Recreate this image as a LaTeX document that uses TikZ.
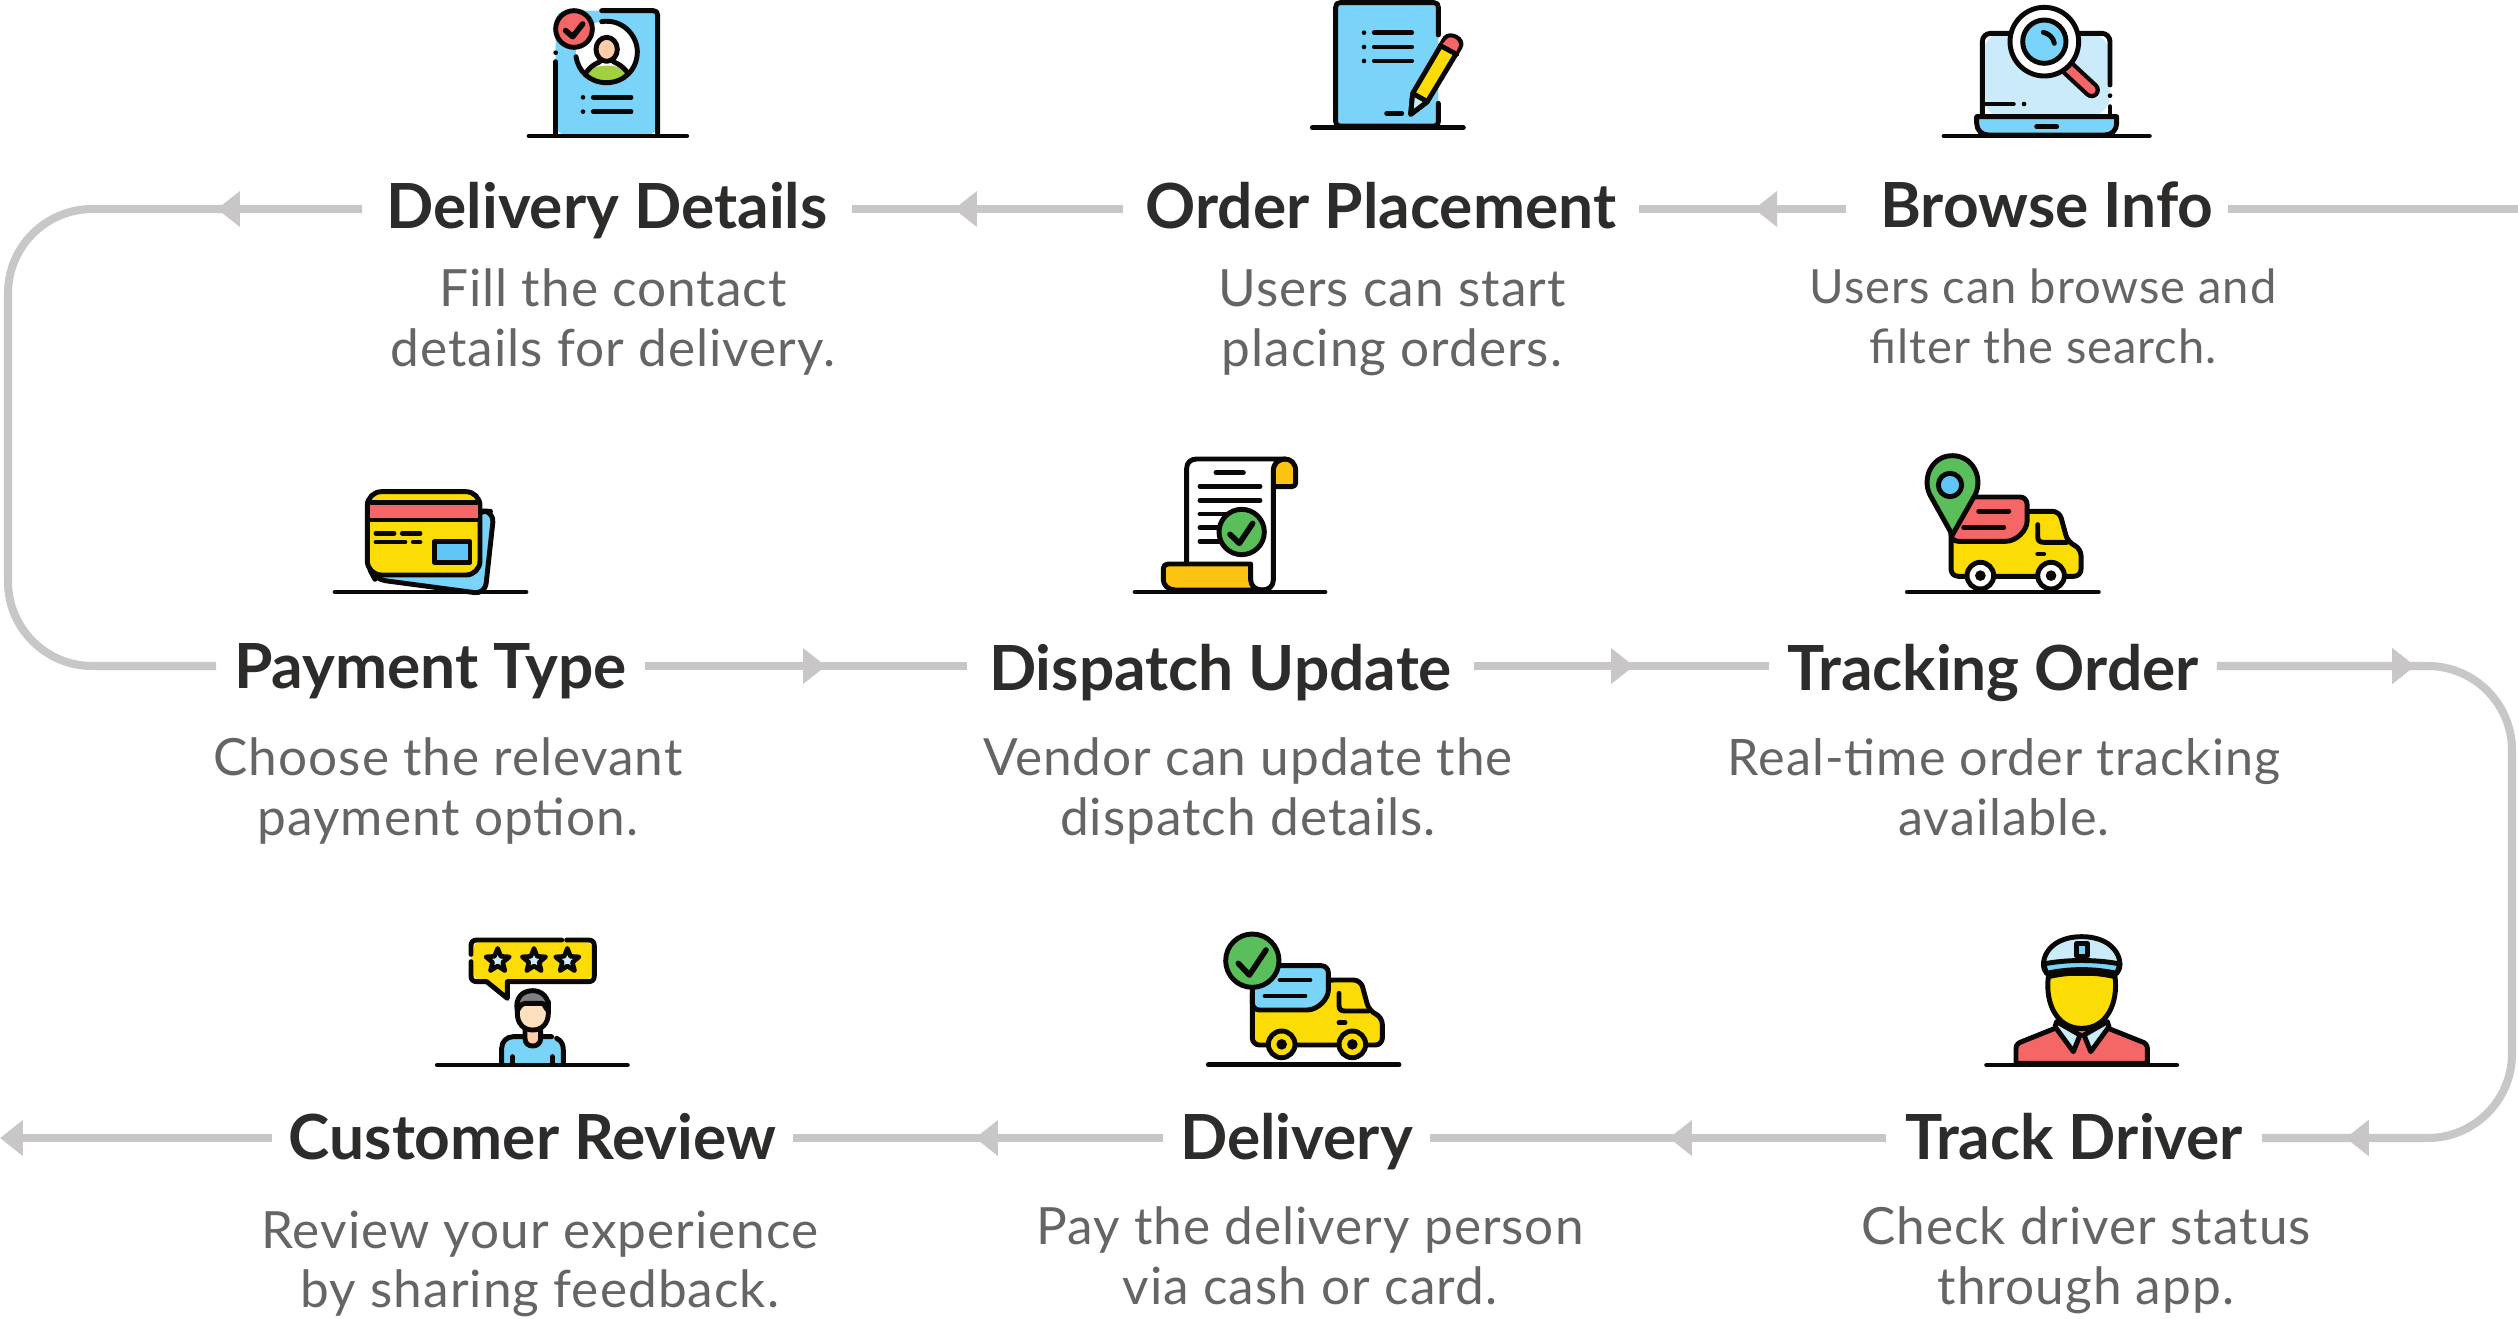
\documentclass[tikz,border=0pt]{standalone}
\usepackage{fontspec}
\setmainfont{Lato}
\newfontfamily\bodyfont[LetterSpace=2]{Lato}
\usetikzlibrary{arrows.meta,decorations.markings,shapes.geometric}
\definecolor{inkc}{HTML}{0A0807}
\definecolor{flowc}{HTML}{C8C6C6}
\definecolor{headc}{HTML}{2E2C2B}
\definecolor{bodyc}{HTML}{666565}
\definecolor{skyc}{HTML}{7AD3F9}
\definecolor{paleskyc}{HTML}{CBEAFA}
\definecolor{deepskyc}{HTML}{5FC6F5}
\definecolor{redc}{HTML}{F56666}
\definecolor{yellowc}{HTML}{FCDC05}
\definecolor{amberc}{HTML}{FCC312}
\definecolor{greenc}{HTML}{5ABE5A}
\definecolor{limec}{HTML}{A0CF40}
\definecolor{skinc}{HTML}{FFCDAA}
\definecolor{faceC}{HTML}{FFE0BD}
\definecolor{hairc}{HTML}{808080}
\tikzset{
	headline/.style = {
		font=\fontsize{17.7}{20}\selectfont\bfseries,
		text=headc,
		inner xsep=0pt,
		inner ysep=0pt,
		text depth=2pt,
		minimum width=#1
	},
	descr/.style = {
		font=\fontsize{14.6}{17}\bodyfont,
		text=bodyc,
		align=center,
		inner sep=0pt
	},
	flow/.style = {
		draw=flowc,
		line width=2.3pt
	},
	arrow at/.style = {
		postaction={decorate},
		decoration={markings, mark=at position #1 with {\arrow[flowc]{Triangle[length=6.5pt,width=9.8pt]}}}
	},
	ink/.style = {
		draw=inkc,
		line width=1.4pt,
		line cap=round,
		line join=round
	},
	dot/.style = {
		fill=inkc,
		draw=none
	}
}
% truck shared by two of the pictures
\newcommand{\truckicon}[2]{
	\draw[ink, fill=yellowc, rounded corners=2pt] (187,200) -- (187,375) -- (577,375) -- (577,292) -- (537,272) -- (512,180) -- (415,180) -- cycle;
	\draw[ink, fill=#1, rounded corners=2pt] (187,137) -- (415,137) -- (415,190) .. controls (415,235) and (385,270) .. (330,270) -- (187,270) -- cycle;
	\draw[ink] (270,180) -- (360,180) (225,228) -- (345,228);
	\draw[ink] (447,220) -- (447,255) .. controls (447,268) and (452,273) .. (465,273) -- (535,273);
	\draw[ink] (447,308) -- (465,308);
	\draw[ink, fill=#2] (275,373) circle[radius=40];
	\draw[ink, fill=#2] (487,373) circle[radius=40];
	\fill[dot] (275,373) circle[radius=16];
	\fill[dot] (487,373) circle[radius=16];
}
\begin{document}
\begin{tikzpicture}[x=0.01cm, y=-0.01cm]
	\useasboundingbox (0,0) rectangle (2518,1318);

	% --- Step headings ---
	\node[headline=3.60cm, text height=12.6pt] (browse) at (2047,209) {Browse Info};
	\node[headline=5.14cm, text height=13pt] (order) at (1381,209) {Order Placement};
	\node[headline=4.88cm, text height=13pt] (details) at (607,209) {Delivery Details};
	\node[headline=4.27cm, text height=15pt] (payment) at (430.5,666) {Payment Type};
	\node[headline=5.05cm, text height=16pt] (dispatch) at (1220.5,666) {Dispatch Update};
	\node[headline=4.46cm, text height=16pt] (tracking) at (1993,666) {Tracking Order};
	\node[headline=3.74cm, text height=14pt] (driver) at (2074,1138) {Track Driver};
	\node[headline=2.65cm, text height=14pt] (delivery) at (1296.5,1138) {Delivery};
	\node[headline=5.19cm, text height=14pt] (review) at (532.5,1138) {Customer Review};

	% --- Step texts ---
	\node[descr, font=\fontsize{13.4}{17}\bodyfont] (browsetxt) at (2043,316) {Users can browse and\\filter the search.};
	\node[descr] (ordertxt) at (1392,323) {Users can start\\placing orders.};
	\node[descr] (detailstxt) at (613,322) {Fill the contact\\details for delivery.};
	\node[descr] (paymenttxt) at (448,791) {Choose the relevant\\payment option.};
	\node[descr] (dispatchtxt) at (1248,791) {Vendor can update the\\dispatch details.};
	\node[descr, font=\fontsize{14.3}{17}\bodyfont] (trackingtxt) at (2004,787) {Real-time order tracking\\available.};
	\node[descr] (drivertxt) at (2086,1260) {Check driver status\\through app.};
	\node[descr] (deliverytxt) at (1310,1256) {Pay the delivery person\\via cash or card.};
	\node[descr] (reviewtxt) at (540,1264) {Review your experience\\by sharing feedback.};

	% --- Free ends and corners ---
	\coordinate (start) at (2518,209);
	\coordinate (finish) at (0,1138);
	\coordinate (cornerA) at (8,209);
	\coordinate (cornerB) at (8,666);
	\coordinate (cornerC) at (2512,666);
	\coordinate (cornerD) at (2512,1138);

	% --- Connectors ---
	\draw[flow] (start) -- (browse.east);
	\draw[flow, arrow at=0.92cm] ([xshift=-0.2cm]browse.west) -- (order.east);
	\draw[flow, arrow at=1.69cm] (order.west) -- (details.east);
	\draw[flow, arrow at=1.45cm, rounded corners=24pt] (details.west) -- (cornerA) -- (cornerB) -- (payment.west);
	\draw[flow, arrow at=1.81cm] (payment.east) -- (dispatch.west);
	\draw[flow, arrow at=1.60cm] (dispatch.east) -- (tracking.west);
	\draw[flow, arrow at=1.98cm, arrow at=-0.84cm, rounded corners=24pt] (tracking.east) -- (cornerC) -- (cornerD) -- (driver.east);
	\draw[flow, arrow at=2.17cm] (driver.west) -- (delivery.east);
	\draw[flow, arrow at=1.88cm] (delivery.west) -- (review.east);
	\draw[flow, -{Triangle[length=6.5pt,width=9.8pt]}] (review.west) -- (finish);

	% --- Picture: details form ---
	\begin{scope}[shift={(500,0)}, scale=1/3]
		\fill[skyc, rounded corners=3pt] (167,32) rectangle (473,405);
		\fill[white] (320,155) circle[radius=92];
		\draw[ink] (305,32) -- (460,32) .. controls (468,32) and (473,37) .. (473,45) -- (473,400);
		\draw[ink] (167,185) -- (167,400);
		\fill[dot] (167,158) circle[radius=7];
		\fill[limec] (258,218) .. controls (280,190) and (360,190) .. (383,218) .. controls (350,255) and (290,255) .. (258,218) -- cycle;
		\draw[ink] (258,218) .. controls (275,195) and (290,190) .. (300,185);
		\draw[ink] (383,218) .. controls (365,195) and (350,190) .. (340,185);
		\draw[ink, fill=skinc] (320,148) ellipse[x radius=32, y radius=36];
		\draw[ink] (305,65) .. controls (365,55) and (412,105) .. (412,155) .. controls (412,210) and (370,248) .. (320,248) .. controls (270,248) and (235,215) .. (228,170);
		\draw[ink, fill=redc] (222,87) circle[radius=55];
		\draw[ink, line width=1.6pt] (197,92) -- (218,110) -- (248,72);
		\fill[dot] (249,292) circle[radius=7];
		\fill[dot] (249,335) circle[radius=7];
		\draw[ink] (280,292) -- (393,292) (280,335) -- (393,335);
		\draw[ink] (87,408) -- (560,408);
	\end{scope}

	% --- Picture: order sheet and pencil ---
	\begin{scope}[shift={(1290,0)}, scale=1/3]
		\fill[skyc, rounded corners=3pt] (137,8) rectangle (445,378);
		\draw[ink] (445,105) -- (445,22) .. controls (445,13) and (441,8) .. (432,8) -- (150,8) .. controls (141,8) and (137,13) .. (137,22) -- (137,365) .. controls (137,374) and (141,378) .. (150,378) -- (432,378) .. controls (441,378) and (445,374) .. (445,365) -- (445,310);
		\foreach \rowy in {98,141,183} {
			\fill[dot] (222,\rowy) circle[radius=7];
			\draw[ink] (253,\rowy) -- (365,\rowy);
		}
		\draw[ink] (290,340) -- (335,340);
		\draw[ink, fill=yellowc] (368,280) -- (465,115) .. controls (480,95) and (525,118) .. (510,142) -- (412,305) -- (362,343) -- cycle;
		\fill[redc] (470,118) .. controls (480,103) and (515,120) .. (505,142) -- (497,157) -- (455,135) -- cycle;
		\draw[ink] (451,137) -- (500,163);
		\draw[ink, fill=paleskyc] (368,280) -- (412,305) -- (362,343) -- cycle;
		\draw[ink] (67,383) -- (520,383);
	\end{scope}

	% --- Picture: laptop and magnifier ---
	\begin{scope}[shift={(1920,0)}, scale=1/3]
		\fill[paleskyc, rounded corners=6pt] (187,100) rectangle (570,350);
		\draw[ink] (265,100) -- (212,100) .. controls (198,100) and (187,111) .. (187,125) -- (187,350);
		\draw[ink] (480,100) -- (545,100) .. controls (559,100) and (570,111) .. (570,125) -- (570,255);
		\fill[dot] (570,287) circle[radius=7];
		\draw[ink] (570,320) -- (570,350);
		\draw[ink] (195,312) -- (280,312);
		\fill[dot] (312,312) circle[radius=7];
		\draw[inkc, line width=4.7pt, line cap=round] (445,205) -- (515,270);
		\draw[redc, line width=2.3pt, line cap=round] (445,205) -- (515,270);
		\draw[ink, fill=white] (373,125) circle[radius=103];
		\draw[ink, fill=skyc] (373,125) circle[radius=65];
		\draw[ink] (370,97) .. controls (385,100) and (400,112) .. (403,130);
		\draw[ink, fill=skyc] (170,350) -- (590,350) -- (590,370) .. controls (590,390) and (575,405) .. (555,405) -- (205,405) .. controls (185,405) and (170,390) .. (170,370) -- cycle;
		\draw[ink] (350,380) -- (410,380);
		\draw[ink] (72,408) -- (688,408);
	\end{scope}

	% --- Picture: cards ---
	\begin{scope}[shift={(320,470)}, scale=1/3]
		\draw[ink, fill=skyc, rounded corners=3pt] (480,122) -- (522,125) -- (495,372) -- (165,328) -- (150,300) -- cycle;
		\draw[ink] (45,366) -- (618,366);
		\draw[ink, fill=yellowc, rounded corners=4pt] (142,65) rectangle (480,315);
		\draw[ink, fill=redc] (142,98) rectangle (480,150);
		\draw[ink] (168,190) -- (222,190) (247,190) -- (300,190) (168,216) -- (255,216) (280,216) -- (300,216);
		\draw[ink, fill=deepskyc] (343,215) rectangle (450,277);
	\end{scope}

	% --- Picture: dispatch scroll ---
	\begin{scope}[shift={(1120,440)}, scale=1/3]
		\draw[ink, fill=amberc] (460,140) -- (515,140) .. controls (523,140) and (527,136) .. (527,128) -- (527,92) .. controls (527,70) and (512,57) .. (495,57) .. controls (475,57) and (460,70) .. (460,92) -- cycle;
		\draw[ink, fill=white] (200,375) -- (200,85) .. controls (200,68) and (212,57) .. (230,57) -- (495,57) .. controls (475,57) and (460,70) .. (460,92) -- (460,420) .. controls (460,440) and (445,450) .. (425,450) -- (300,450) -- cycle;
		\draw[ink, fill=amberc] (145,372) -- (392,372) -- (392,420) .. controls (392,438) and (408,450) .. (425,450) -- (165,450) .. controls (145,450) and (130,435) .. (130,420) -- (130,385) .. controls (130,377) and (136,372) .. (145,372) -- cycle;
		\draw[ink] (288,98) -- (370,98) (240,139) -- (420,139) (240,181) -- (420,181) (240,222) -- (320,222) (240,263) -- (310,263) (240,304) -- (310,304);
		\draw[ink, fill=greenc] (365,276) circle[radius=68];
		\draw[ink, line width=1.6pt] (330,283) -- (358,310) -- (398,250);
		\draw[ink] (45,456) -- (615,456);
	\end{scope}

	% --- Picture: tracking truck ---
	\begin{scope}[shift={(1888.7,451.3)}, scale=1/3]
		\truckicon{redc}{white}
	\end{scope}
	\begin{scope}[shift={(1900,440)}, scale=1/3]
		\draw[ink, fill=greenc] (157,285) -- (90,165) .. controls (65,115) and (95,47) .. (157,47) .. controls (220,47) and (250,115) .. (225,165) -- cycle;
		\draw[ink, fill=deepskyc] (150,135) circle[radius=35];
		\draw[ink] (22,456) -- (595,456);
	\end{scope}

	% --- Picture: customer with stars ---
	\begin{scope}[shift={(420,920)}, scale=1/3]
		\fill[yellowc, rounded corners=4pt] (153,60) rectangle (523,185);
		\fill[yellowc] (200,185) -- (262,235) -- (262,185) -- cycle;
		\draw[ink] (440,60) -- (505,60) .. controls (517,60) and (523,66) .. (523,78) -- (523,167) .. controls (523,179) and (517,185) .. (505,185) -- (262,185) -- (262,235) -- (200,185) -- (171,185) .. controls (159,185) and (153,179) .. (153,167) -- (153,125);
		\draw[ink] (153,103) -- (153,78) .. controls (153,66) and (159,60) .. (171,60) -- (425,60);
		\foreach \starx/\starname in {233/starA,342/starB,442/starC} {
			\node[star, star points=5, star point ratio=2.3, minimum size=7pt, inner sep=0pt, draw=inkc, line width=1.3pt, fill=paleskyc, line join=round] (\starname) at (\starx,122) {};
		}
		\fill[skyc] (245,430) -- (245,385) .. controls (245,365) and (260,350) .. (280,350) -- (400,350) .. controls (420,352) and (430,370) .. (430,390) -- (430,430) -- cycle;
		\draw[ink] (245,430) -- (245,385) .. controls (245,365) and (260,350) .. (280,350) -- (395,350);
		\draw[ink] (410,355) .. controls (425,362) and (430,375) .. (430,390) -- (430,430);
		\draw[ink] (278,410) -- (278,430) (397,410) -- (397,430);
		\draw[ink, fill=skinc] (315,325) -- (315,355) .. controls (315,370) and (325,378) .. (338,378) .. controls (351,378) and (362,370) .. (362,355) -- (362,325) -- cycle;
		\draw[ink, fill=faceC] (338,330) .. controls (310,330) and (292,310) .. (292,280) -- (292,245) -- (385,245) -- (385,280) .. controls (385,310) and (366,330) .. (338,330) -- cycle;
		\draw[ink, fill=hairc] (292,272) .. controls (285,235) and (305,212) .. (338,212) .. controls (365,212) and (390,232) .. (385,272) .. controls (375,265) and (375,250) .. (365,250) -- (315,250) .. controls (300,252) and (298,265) .. (292,272) -- cycle;
		\draw[ink] (52,435) -- (622,435);
	\end{scope}

	% --- Picture: delivery truck ---
	\begin{scope}[shift={(1190,920)}, scale=1/3]
		\truckicon{skyc}{yellowc}
		\draw[ink, fill=greenc] (187,122) circle[radius=80];
		\draw[ink, line width=1.6pt] (145,130) -- (178,165) -- (228,90);
		\draw[ink] (55,434) -- (627,434);
	\end{scope}

	% --- Picture: driver ---
	\begin{scope}[shift={(1970,920)}, scale=1/3]
		\draw[ink, fill=redc] (138,430) -- (138,385) .. controls (138,375) and (145,368) .. (155,365) -- (255,325) -- (415,325) -- (515,365) .. controls (525,368) and (532,375) .. (532,385) -- (532,430) -- cycle;
		\draw[ink, fill=paleskyc] (260,305) -- (330,345) -- (310,395) -- (255,320) -- cycle;
		\draw[ink, fill=paleskyc] (412,305) -- (342,345) -- (362,395) -- (417,320) -- cycle;
		\draw[ink, fill=yellowc] (235,170) .. controls (300,155) and (370,155) .. (435,170) .. controls (445,250) and (410,325) .. (335,325) .. controls (260,325) and (225,250) .. (235,170) -- cycle;
		\draw[ink, fill=paleskyc] (230,160) .. controls (205,135) and (225,50) .. (335,50) .. controls (445,50) and (465,135) .. (440,160) -- cycle;
		\draw[ink, fill=skyc] (220,132) .. controls (290,118) and (380,118) .. (450,132) -- (440,160) .. controls (370,145) and (300,145) .. (230,160) -- cycle;
		\draw[ink, fill=skyc] (320,70) rectangle (352,108);
		\draw[ink] (50,435) -- (620,435);
	\end{scope}
\end{tikzpicture}
\end{document}
